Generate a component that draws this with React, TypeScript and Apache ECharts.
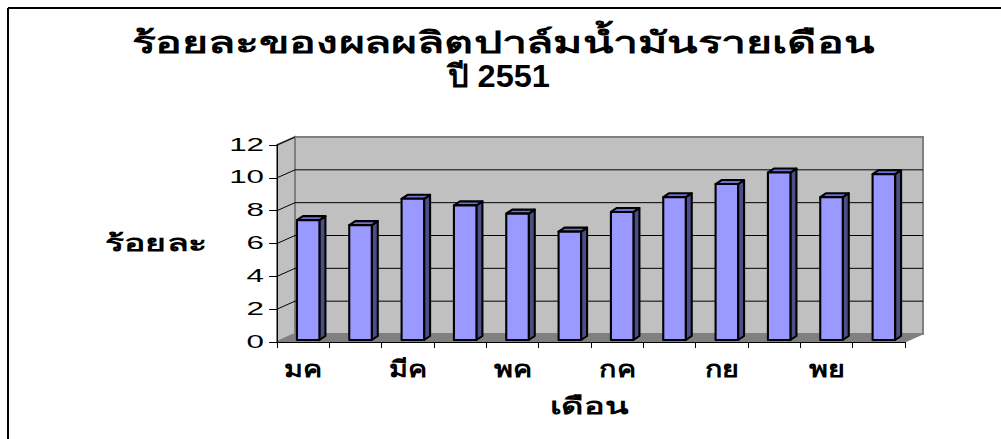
import React, { useEffect, useRef } from "react";
import * as echarts from "echarts";

const months = ["มค", "กพ", "มีค", "เมย", "พค", "มิย", "กค", "สค", "กย", "ตค", "พย", "ธค"];
const percent = [7.3, 7.0, 8.6, 8.2, 7.7, 6.6, 7.8, 8.7, 9.5, 10.2, 8.7, 10.1];
const yTicks = [0, 2, 4, 6, 8, 10, 12];
const titleLines = ["ร้อยละของผลผลิตปาล์มน้ำมันรายเดือน", "ปี 2551"];
const xName = "เดือน";
const yName = "ร้อยละ";

const DX = 18;
const DY = -8;
const FONT = "'Liberation Sans', Arial, 'DejaVu Sans', sans-serif";

export default function App() {
  const ref = useRef<HTMLDivElement>(null);
  useEffect(() => {
    if (!ref.current) return;
    const chart = echarts.init(ref.current, undefined, { renderer: "svg" });

    const wallsRender = (params: any, api: any) => {
      if (params.dataIndex !== 0) return null;
      const cs = params.coordSys;
      const x0 = cs.x, x1 = cs.x + cs.width;
      const y0 = api.coord([0, 0])[1];
      const yTop = api.coord([0, 12])[1];
      const children: any[] = [];
      children.push({
        type: "polygon",
        shape: { points: [[x0 + DX, yTop + DY], [x1 + DX, yTop + DY], [x1 + DX, y0 + DY], [x0 + DX, y0 + DY]] },
        style: { fill: "#c0c0c0", stroke: "#808080", lineWidth: 2 },
      });
      children.push({
        type: "polygon",
        shape: { points: [[x0, yTop], [x0 + DX, yTop + DY], [x0 + DX, y0 + DY], [x0, y0]] },
        style: { fill: "#c0c0c0", stroke: "#808080", lineWidth: 2 },
      });
      children.push({
        type: "polygon",
        shape: { points: [[x0, y0], [x1, y0], [x1 + DX, y0 + DY], [x0 + DX, y0 + DY]] },
        style: { fill: "#808080", stroke: "#808080", lineWidth: 1 },
      });
      yTicks.forEach((t) => {
        const y = api.coord([0, t])[1];
        if (t > 0 && t < 12) {
          children.push({
            type: "line",
            shape: { x1: x0 + DX, y1: y + DY, x2: x1 + DX, y2: y + DY },
            style: { stroke: "#000", lineWidth: 1 },
          });
        }
        if (t > 0) {
          children.push({
            type: "line",
            shape: { x1: x0, y1: y, x2: x0 + DX, y2: y + DY },
            style: { stroke: "#000", lineWidth: 1 },
          });
        }
      });
      return { type: "group", children };
    };

    const barsRender = (params: any, api: any) => {
      const i = api.value(0);
      const v = api.value(1);
      const top = api.coord([i, v]);
      const base = api.coord([i, 0]);
      const band = api.size([1, 0])[0];
      const w = band * 0.43;
      const shift = 5;
      const xl = top[0] - w / 2 + shift;
      const xr = top[0] + w / 2 + shift;
      const yt = top[1] - 2;
      const yb = base[1] - 2;
      const sx = 6, sy = -4;
      const st = { stroke: "#000", lineWidth: 2.1, lineJoin: "round" };
      return {
        type: "group",
        children: [
          { type: "polygon", shape: { points: [[xr, yb], [xr + sx, yb + sy], [xr + sx, yt + sy], [xr, yt]] }, style: { fill: "#4d4d88", ...st } },
          { type: "polygon", shape: { points: [[xl, yt], [xl + sx, yt + sy], [xr + sx, yt + sy], [xr, yt]] }, style: { fill: "#6f6fd8", ...st } },
          { type: "polygon", shape: { points: [[xl, yb], [xr, yb], [xr, yt], [xl, yt]] }, style: { fill: "#9999ff", ...st } },
        ],
      };
    };

    const yLabelRender = (params: any, api: any) => {
      const cs = params.coordSys;
      const t = api.value(1);
      const p = api.coord([0, t]);
      return {
        type: "text",
        x: cs.x - 13,
        y: p[1] - 1,
        scaleX: 1.65,
        style: { text: String(t), fill: "#000", font: `19px ${FONT}`, textAlign: "right", textVerticalAlign: "middle", align: "right", verticalAlign: "middle" },
      };
    };

    const xLabelRender = (params: any, api: any) => {
      const i = api.value(0);
      if (i % 2 !== 0) return null;
      const cs = params.coordSys;
      const p = api.coord([i, 0]);
      return {
        type: "text",
        x: p[0],
        y: cs.y + cs.height + 27,
        scaleX: 1.25,
        style: { text: months[i], fill: "#000", font: `bold 23px ${FONT}`, textAlign: "center", textVerticalAlign: "middle", align: "center", verticalAlign: "middle" },
      };
    };

    chart.setOption({
      animation: false,
      backgroundColor: "#ffffff",
      grid: { left: 277, right: 96, top: 145, bottom: 97, containLabel: false },
      xAxis: {
        type: "category",
        data: months,
        boundaryGap: true,
        axisLine: { show: true, lineStyle: { color: "#000", width: 1 } },
        axisTick: { show: true, length: 6, lineStyle: { color: "#000" }, interval: 0 },
        axisLabel: { show: false },
        splitLine: { show: false },
        z: 5,
      },
      yAxis: {
        type: "value",
        min: 0,
        max: 12,
        interval: 2,
        axisLine: { show: true, lineStyle: { color: "#000", width: 1 } },
        axisTick: { show: true, length: 8, lineStyle: { color: "#000" } },
        axisLabel: { show: false },
        splitLine: { show: false },
        z: 5,
      },
      graphic: [
        { type: "line", shape: { x1: 8, y1: 8, x2: 1001, y2: 8 }, style: { stroke: "#000", lineWidth: 2 } },
        { type: "line", shape: { x1: 8, y1: 8, x2: 8, y2: 439 }, style: { stroke: "#000", lineWidth: 2 } },
        { type: "text", x: 503, y: 43, scaleX: 1.49, style: { text: titleLines[0], fill: "#000", font: `bold 30px ${FONT}`, textAlign: "center", textVerticalAlign: "middle" } },
        { type: "text", x: 499, y: 76, scaleX: 1.05, style: { text: titleLines[1], fill: "#000", font: `bold 31px ${FONT}`, textAlign: "center", textVerticalAlign: "middle" } },
        { type: "text", x: 156, y: 243, scaleX: 1.55, style: { text: yName, fill: "#000", font: `bold 23px ${FONT}`, textAlign: "center", textVerticalAlign: "middle" } },
        { type: "text", x: 589, y: 406, scaleX: 1.5, style: { text: xName, fill: "#000", font: `bold 23px ${FONT}`, textAlign: "center", textVerticalAlign: "middle" } },
      ],
      series: [
        { type: "custom", renderItem: wallsRender, data: [[0, 0]], z: 1, silent: true },
        { type: "custom", renderItem: barsRender, data: percent.map((v, i) => [i, v]), z: 3 },
        { type: "custom", renderItem: yLabelRender, data: yTicks.map((t) => [0, t]), z: 4, silent: true, clip: false },
        { type: "custom", renderItem: xLabelRender, data: months.map((m, i) => [i, 0]), z: 4, silent: true, clip: false },
      ],
    });
    return () => chart.dispose();
  }, []);
  return <div ref={ref} style={{ width: 1001, height: 439, position: "absolute", left: 0, top: 0 }} />;
}
